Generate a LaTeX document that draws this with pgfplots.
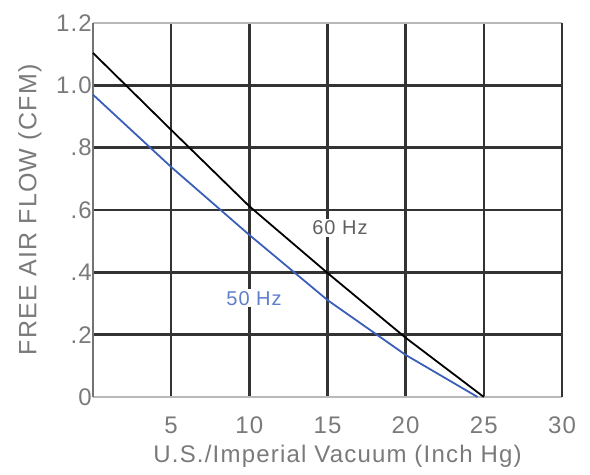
\documentclass[border=0pt]{standalone}
\usepackage{fontspec}
\setmainfont[LetterSpace=5]{Liberation Sans}
\usepackage{pgfplots}
\pgfplotsset{compat=1.18}
\definecolor{gridc}{HTML}{333333}
\definecolor{txtc}{HTML}{7A7A7A}
\definecolor{blueline}{HTML}{3B5FB8}
\definecolor{bluetxt}{HTML}{5F7FCC}
\begin{document}
\begin{tikzpicture}
\begin{axis}[
  scale only axis,
  width=469pt, height=374pt,
  xmin=0, xmax=30, ymin=0, ymax=1.2,
  xtick={5,10,15,20,25,30},
  xticklabels={5,10,15,20,25,30},
  ytick={0.2,0.4,0.6,0.8},
  yticklabels={.2,.4,.6,.8},
  extra y ticks={0,1.0,1.2},
  extra y tick labels={0,1.0,1.2},
  extra y tick style={grid style={draw=gray!70, line width=2.5pt}},
  major tick length=0pt,
  grid=major,
  major grid style={draw=gridc, line width=2.5pt},
  axis line style={draw=none},
  /pgf/number format/assume math mode=true,
  tick label style={font=\fontsize{24}{28}\selectfont, text=txtc},
  yticklabel style={inner sep=1pt},
  xticklabel style={yshift=-16pt},
  xlabel={U.S./Imperial Vacuum (Inch Hg)},
  ylabel={FREE AIR FLOW (CFM)},
  label style={text=txtc},
  xlabel style={font=\fontsize{24}{28}\selectfont, yshift=-5pt, xshift=10pt},
  ylabel style={font=\fontsize{25}{30}\selectfont, yshift=10pt},
  clip=false,
]
\draw[draw=gray!55, line width=2.5pt] (rel axis cs:0,0) -- (rel axis cs:1,0);
\draw[draw=gray!55, line width=2.5pt] (rel axis cs:0,1) -- (rel axis cs:1,1);
\draw[draw=gray!90!black, line width=2pt] (rel axis cs:0,0) -- (rel axis cs:0,1);
\draw[draw=gridc, line width=2.5pt] (rel axis cs:1,0) -- (rel axis cs:1,1);
\addplot[black, line width=1.8pt] coordinates {
  (0,1.104) (5,0.857) (10,0.612) (15,0.398) (20,0.19) (25,0)
};
\addplot[blueline, line width=1.8pt] coordinates {
  (0,0.97) (5,0.738) (10,0.52) (15,0.311) (20,0.135) (24.6,0)
};
\node[fill=white, inner sep=2pt, text=gray!75!black, font=\fontsize{20}{24}\selectfont] at (axis cs:15.8,0.543) {60 Hz};
\node[fill=white, inner sep=2pt, text=bluetxt, font=\fontsize{20}{24}\selectfont] at (axis cs:10.3,0.317) {50 Hz};
\end{axis}
\pgfresetboundingbox
\path[use as bounding box] ([xshift=-93pt,yshift=-77pt]current axis.south west) rectangle ([xshift=28pt,yshift=23pt]current axis.north east);
\end{tikzpicture}
\end{document}
